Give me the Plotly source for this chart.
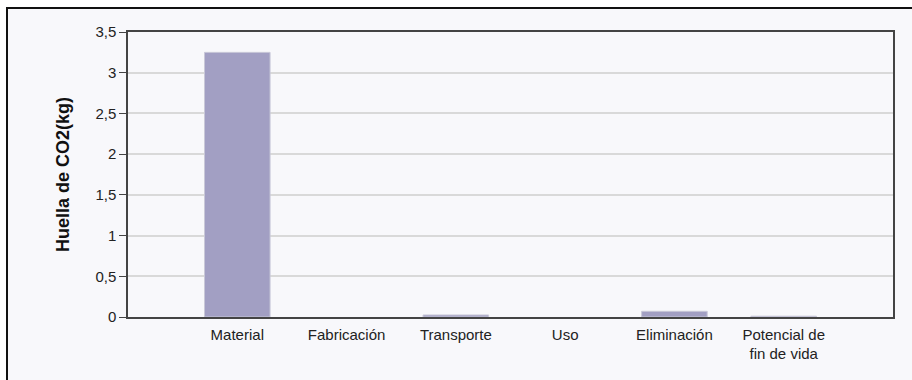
import plotly.graph_objects as go

categories = ["Material", "Fabricación", "Transporte", "Uso", "Eliminación", "Potencial de<br>fin de vida"]
values = [3.25, 0.0, 0.025, 0.0, 0.07, 0.01]
y_ticks = [0, 0.5, 1, 1.5, 2, 2.5, 3, 3.5]
y_tick_labels = ["0", "0,5", "1", "1,5", "2", "2,5", "3", "3,5"]
y_title = "Huella de CO2(kg)"

fig = go.Figure()
fig.add_trace(go.Bar(
    x=list(range(len(categories))), y=values, width=0.6,
    marker=dict(color="#a29fc3",
                line=dict(color="#c9c8d8", width=[1 if v > 0 else 0 for v in values])),
))

W, H = 912, 380
L, R, T, B = 128, 19, 32, 63
pw, ph = W - L - R, H - T - B

def px_x(p):
    return (p - L) / pw

def px_y(p):
    return (H - B - p) / ph

fig.add_shape(type="rect", xref="paper", yref="paper",
              x0=px_x(7), x1=px_x(930), y0=px_y(8), y1=px_y(400),
              fillcolor="#f8f8fb", line=dict(color="#111", width=2), layer="below")

fig.update_layout(
    width=W, height=H,
    margin=dict(l=L, r=R, t=T, b=B),
    paper_bgcolor="white", plot_bgcolor="white",
    separators=",.",
    showlegend=False,
    font=dict(family="Liberation Sans, Arial", size=15, color="#333"),
    xaxis=dict(
        range=[-1, 6], tickmode="array", tickvals=list(range(len(categories))),
        ticktext=categories, showgrid=False, zeroline=False,
        showline=True, linecolor="#444", linewidth=1.5, mirror=True,
        ticks="outside", ticklen=3, tickcolor="rgba(0,0,0,0)",
        tickfont=dict(size=15, color="#222"),
    ),
    yaxis=dict(
        range=[0, 3.5], tickmode="array", tickvals=y_ticks, ticktext=y_tick_labels,
        showgrid=True, gridcolor="#d9d9d9", gridwidth=1.5, zeroline=False,
        showline=True, linecolor="#444", linewidth=1.5, mirror=True,
        ticks="outside", ticklen=7, tickcolor="#444", tickwidth=1,
        tickfont=dict(size=15, color="#222"),
        title=dict(text="<b>" + y_title + "</b>", font=dict(size=18, color="#111"), standoff=21),
    ),
)

fig.write_html("out.html")
